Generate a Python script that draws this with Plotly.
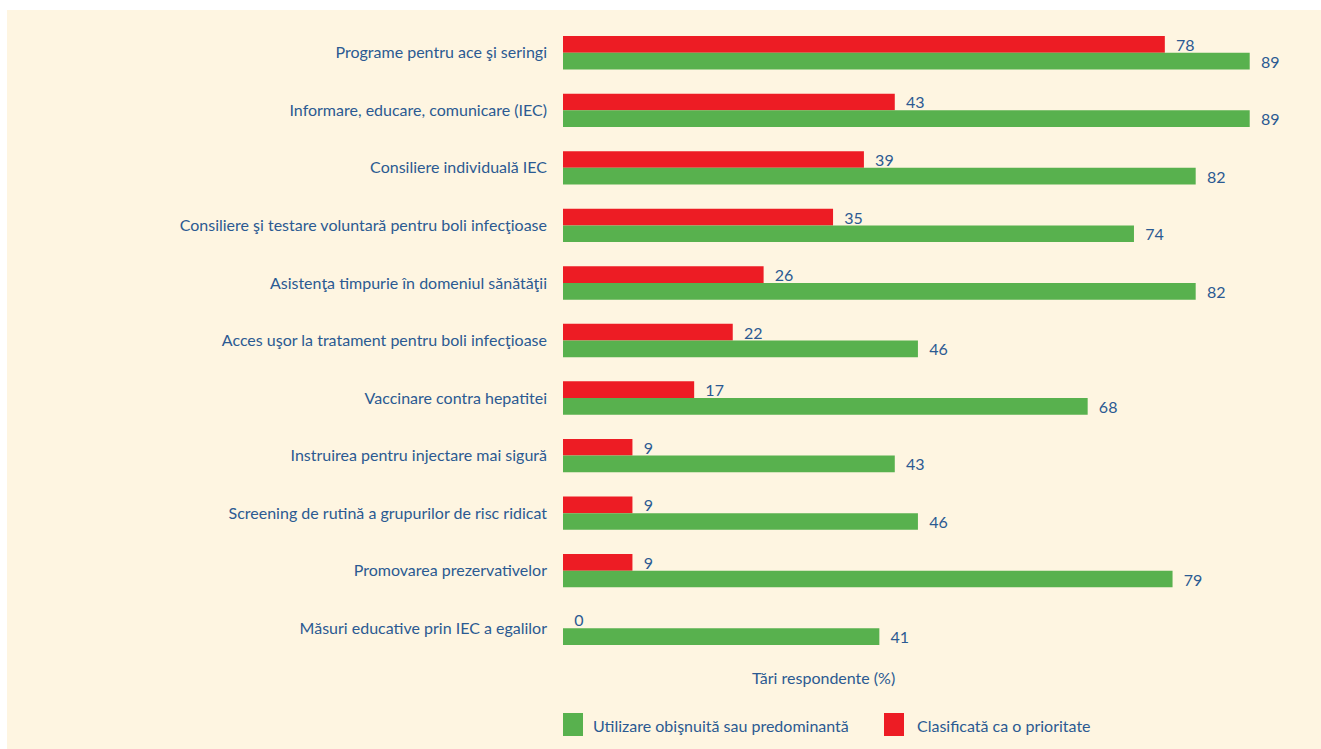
import plotly.graph_objects as go

categories = [
    "Programe pentru ace şi seringi",
    "Informare, educare, comunicare (IEC)",
    "Consiliere individuală IEC",
    "Consiliere şi testare voluntară pentru boli infecţioase",
    "Asistenţa timpurie în domeniul sănătăţii",
    "Acces uşor la tratament pentru boli infecţioase",
    "Vaccinare contra hepatitei",
    "Instruirea pentru injectare mai sigură",
    "Screening de rutină a grupurilor de risc ridicat",
    "Promovarea prezervativelor",
    "Măsuri educative prin IEC a egalilor",
]
priority = [78, 43, 39, 35, 26, 22, 17, 9, 9, 9, 0]
usual = [89, 89, 82, 74, 82, 46, 68, 43, 46, 79, 41]
name_usual = "Utilizare obişnuită sau predominantă"
name_priority = "Clasificată ca o prioritate"
axis_title = "Tări respondente (%)"

RED = "#ED1C24"
GREEN = "#58B14E"
CREAM = "#FEF5E1"
TXT = "#2B5A92"
FONT = "Lato"

fig = go.Figure()
fig.add_trace(go.Bar(
    y=categories, x=priority, orientation="h", name=name_priority,
    marker=dict(color=RED, line=dict(width=0)),
    texttemplate="\u00a0\u00a0%{x}", textposition="outside", cliponaxis=False,
    constraintext="none",
    textfont=dict(color=TXT, size=16, family=FONT), showlegend=False,
))
fig.add_trace(go.Bar(
    y=categories, x=usual, orientation="h", name=name_usual,
    marker=dict(color=GREEN, line=dict(width=0)),
    texttemplate="\u00a0\u00a0%{x}", textposition="outside", cliponaxis=False,
    constraintext="none",
    textfont=dict(color=TXT, size=16, family=FONT), showlegend=False,
))

W, H = 1321, 749
L, R, T, B = 563, 25, 24, 92
pw = W - L - R
ph = H - T - B

def px(x):
    return (x - L) / pw

def py(y):
    return (H - B - y) / ph

shapes = [
    dict(type="rect", xref="paper", yref="paper", x0=px(0), x1=px(W), y0=py(0), y1=py(10),
         fillcolor="white", line=dict(width=0), layer="below"),
    dict(type="rect", xref="paper", yref="paper", x0=px(0), x1=px(7), y0=py(0), y1=py(H),
         fillcolor="white", line=dict(width=0), layer="below"),
    dict(type="rect", xref="paper", yref="paper", x0=px(563), x1=px(583), y0=py(713), y1=py(736),
         fillcolor=GREEN, line=dict(width=0)),
    dict(type="rect", xref="paper", yref="paper", x0=px(884), x1=px(904), y0=py(713), y1=py(736),
         fillcolor=RED, line=dict(width=0)),
]
annotations = [
    dict(xref="paper", yref="paper", x=px(823), y=py(677), text=axis_title, showarrow=False,
         xanchor="center", yanchor="middle", font=dict(color=TXT, size=16, family=FONT)),
    dict(xref="paper", yref="paper", x=px(591), y=py(725), text=name_usual, showarrow=False,
         xanchor="left", yanchor="middle", font=dict(color=TXT, size=16, family=FONT)),
    dict(xref="paper", yref="paper", x=px(915), y=py(725), text=name_priority, showarrow=False,
         xanchor="left", yanchor="middle", font=dict(color=TXT, size=16, family=FONT)),
]

fig.update_layout(
    width=W, height=H,
    margin=dict(l=L, r=R, t=T, b=B, pad=0),
    paper_bgcolor=CREAM, plot_bgcolor=CREAM,
    barmode="group", bargap=0.42, bargroupgap=0,
    showlegend=False,
    shapes=shapes, annotations=annotations,
    xaxis=dict(range=[0, 95], visible=False, showgrid=False, zeroline=False),
    yaxis=dict(autorange="reversed", showgrid=False, zeroline=False, showline=False,
               ticks="", ticklabelstandoff=15,
               tickfont=dict(color=TXT, size=16, family=FONT)),
    font=dict(family=FONT, color=TXT),
)

fig.write_html("out.html")
